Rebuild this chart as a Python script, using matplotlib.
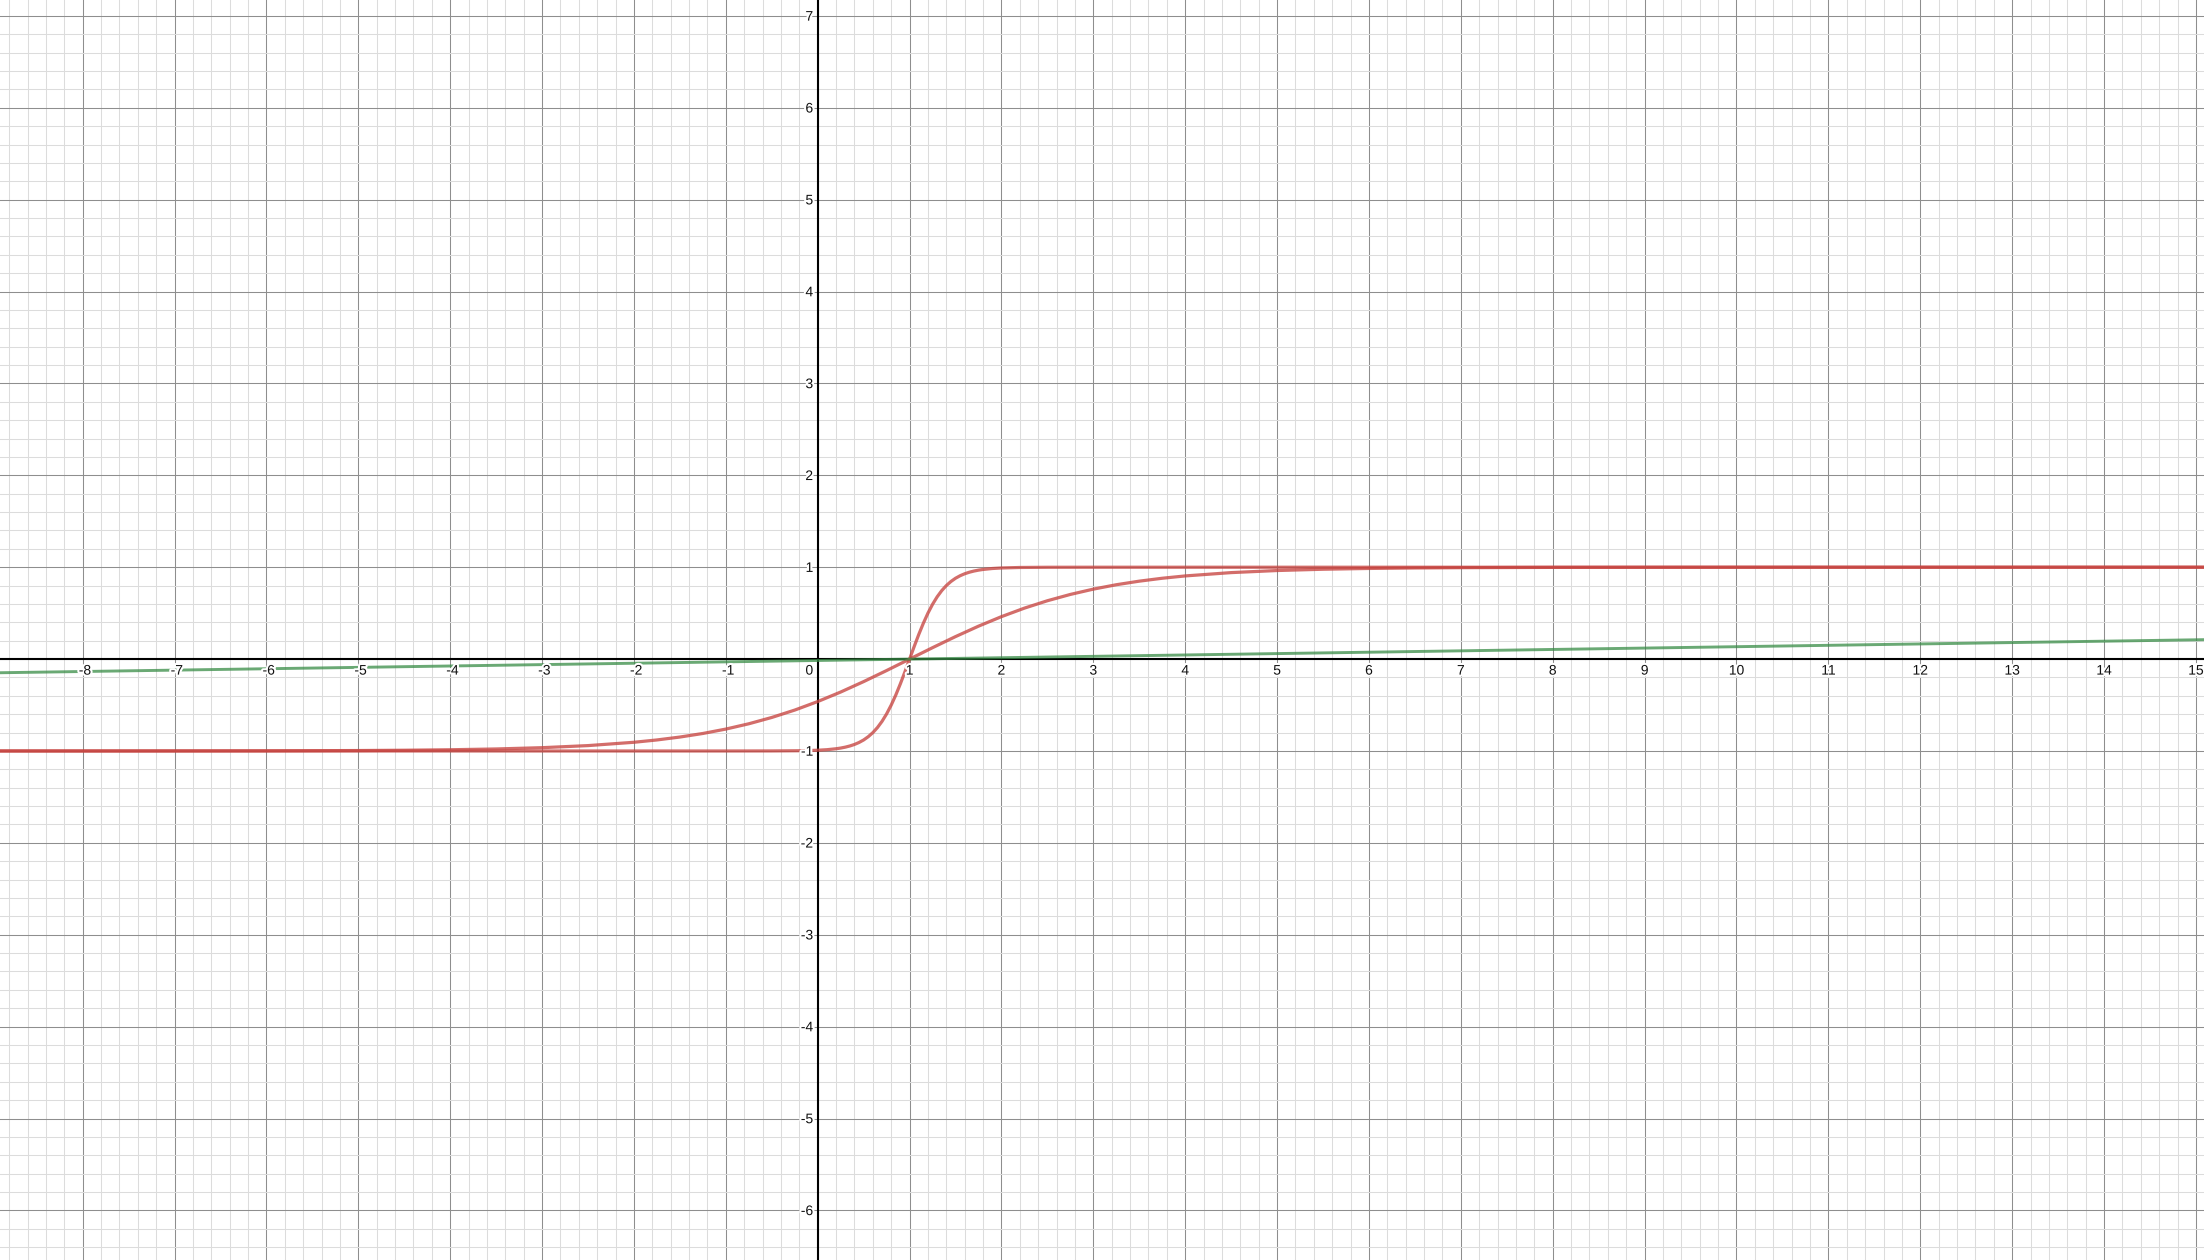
import matplotlib
matplotlib.use("Agg")
import matplotlib.pyplot as plt
import matplotlib.transforms as mtransforms
import matplotlib.patheffects as pe
import numpy as np

plt.rcParams['font.family'] = ['Liberation Sans', 'DejaVu Sans']

# ---- view window (data units) ----
x_view = (-8.8997, 15.0882)
y_view = (-6.540, 7.1735)

# ---- axis number labels ----
x_labels = [-8, -7, -6, -5, -4, -3, -2, -1, 1, 2, 3, 4, 5, 6, 7, 8, 9, 10, 11, 12, 13, 14, 15]
y_labels = [-6, -5, -4, -3, -2, -1, 1, 2, 3, 4, 5, 6, 7]

# ---- curve 1 (smooth red) ----
smooth_x = [-9.0, -8.0, -7.0, -6.0, -5.0, -4.5, -4.0, -3.5, -3.0, -2.5, -2.0,
            -1.75, -1.5, -1.25, -1.0, -0.75, -0.5, -0.25, 0.0,
            0.25, 0.5, 0.75, 1.0,
            1.25, 1.5, 1.75, 2.0, 2.25, 2.5, 2.75, 3.0, 3.25, 3.5, 3.75, 4.0,
            4.5, 5.0, 5.5, 6.0, 6.5, 7.0,
            8.0, 9.0, 10.0, 11.0, 15.2]
smooth_y = [-0.9999, -0.9998, -0.9993, -0.9982, -0.9951, -0.9919, -0.9866, -0.9780, -0.9640, -0.9414, -0.9052,
            -0.8800, -0.8483, -0.8095, -0.7616, -0.7039, -0.6352, -0.5548, -0.4621,
            -0.3584, -0.2449, -0.1244, 0.0,
            0.1244, 0.2449, 0.3584, 0.4621, 0.5548, 0.6352, 0.7039, 0.7616, 0.8095, 0.8483, 0.8800, 0.9052,
            0.9414, 0.9640, 0.9780, 0.9866, 0.9919, 0.9951,
            0.9982, 0.9993, 0.9998, 0.9999, 1.0]

# ---- curve 2 (sharp red) ----
sharp_x = [-9.0, -1.0, -0.5, -0.2, 0.0,
           0.1, 0.2, 0.25, 0.3, 0.35, 0.4, 0.45, 0.5,
           0.55, 0.6, 0.65, 0.7, 0.75, 0.8, 0.85, 0.9, 0.95,
           1.0,
           1.05, 1.1, 1.15, 1.2, 1.25, 1.3, 1.35, 1.4, 1.45, 1.5, 1.55, 1.6, 1.65, 1.7, 1.75, 1.8,
           1.9, 2.0, 2.2, 2.5, 3.0, 15.2]
sharp_y = [-1.0, -1.0, -0.9995, -0.9973, -0.9919,
           -0.9860, -0.9757, -0.9682, -0.9583, -0.9455, -0.9289, -0.9074, -0.8800,
           -0.8446, -0.8005, -0.7454, -0.6777, -0.5963, -0.5005, -0.3906, -0.2683, -0.1366,
           0.0,
           0.1366, 0.2683, 0.3906, 0.5005, 0.5963, 0.6777, 0.7454, 0.8005, 0.8446, 0.8800, 0.9074, 0.9289, 0.9455, 0.9583, 0.9682, 0.9757,
           0.9860, 0.9919, 0.9973, 0.9995, 1.0, 1.0]

# ---- green line ----
line_x = [-9.0, 15.2]
line_y = [-0.150, 0.213]

RED = '#c74440'
GREEN = '#388c46'

fig = plt.figure(figsize=(22.04, 12.60), dpi=100)
ax = fig.add_axes([0, 0, 1, 1])

ax.set_xticks(np.arange(-8, 16))
ax.set_yticks(np.arange(-6, 8))
ax.set_xticks(np.round(np.arange(-44, 76) * 0.2, 6), minor=True)
ax.set_yticks(np.round(np.arange(-32, 36) * 0.2, 6), minor=True)
ax.set_axisbelow(True)
ax.grid(which='minor', color='#dcdcdc', linewidth=0.75)
ax.grid(which='major', color='#8e8e8e', linewidth=0.75)
ax.tick_params(which='both', length=0, labelbottom=False, labelleft=False)
for s in ax.spines.values():
    s.set_visible(False)

ax.axhline(0, color='black', linewidth=1.5, zorder=1.5)
ax.axvline(0, color='black', linewidth=1.5, zorder=1.5)

ax.plot(smooth_x, smooth_y, color=RED, alpha=0.78, linewidth=2.3,
        solid_joinstyle='round', solid_capstyle='round', zorder=3)
ax.plot(sharp_x, sharp_y, color=RED, alpha=0.78, linewidth=2.3,
        solid_joinstyle='round', solid_capstyle='round', zorder=3)
ax.plot(line_x, line_y, color=GREEN, alpha=0.75, linewidth=2.1, zorder=3.2)

# limits set last so that tick placement cannot widen them
ax.set_xlim(*x_view)
ax.set_ylim(*y_view)

halo = [pe.withStroke(linewidth=3, foreground='white')]
fs = 10

for v in x_labels:
    dx = 2.3 if v < 0 else 0.0
    tr = mtransforms.offset_copy(ax.transData, fig=fig, x=dx, y=-15.5, units='dots')
    ax.text(v, 0, f"{v}", transform=tr, ha='center', va='baseline',
            fontsize=fs, color='#111111', path_effects=halo, zorder=5)

for v in y_labels:
    tr = mtransforms.offset_copy(ax.transData, fig=fig, x=-4.5, y=-4.7, units='dots')
    ax.text(0, v, f"{v}", transform=tr, ha='right', va='baseline',
            fontsize=fs, color='#111111', path_effects=halo, zorder=5)

tr0 = mtransforms.offset_copy(ax.transData, fig=fig, x=-4.5, y=-15.5, units='dots')
ax.text(0, 0, "0", transform=tr0, ha='right', va='baseline',
        fontsize=fs, color='#111111', path_effects=halo, zorder=5)

fig.savefig("out.png", dpi=100)
